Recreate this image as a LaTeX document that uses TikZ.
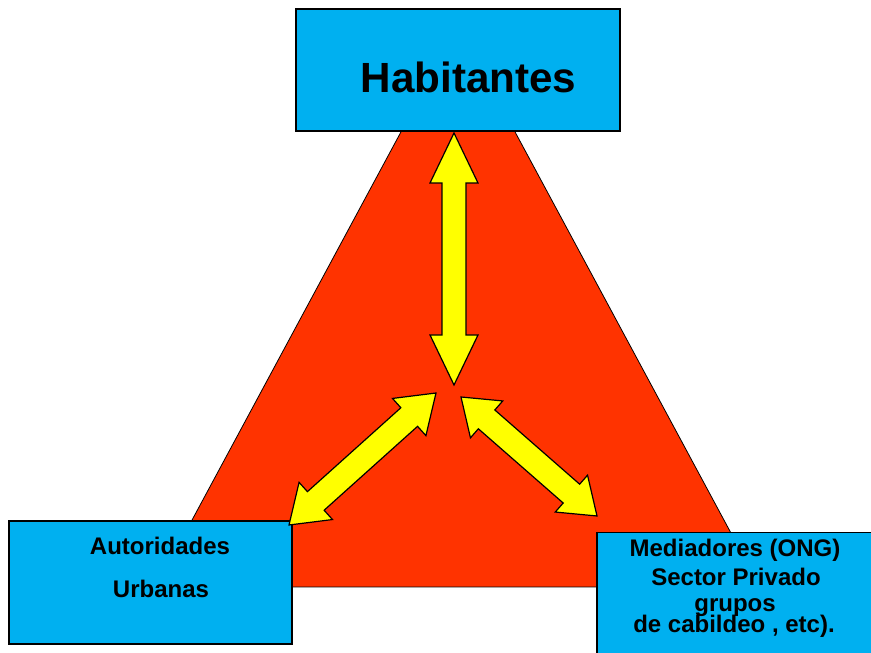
\documentclass[tikz,border=0pt]{standalone}
\usepackage{fontspec}
\setmainfont{Liberation Sans}
\usetikzlibrary{calc}
\definecolor{tri}{HTML}{FF3300}
\definecolor{boxblue}{HTML}{00B0F0}
\definecolor{arrowyellow}{HTML}{FFFF00}
\tikzset{
  boxstyle/.style={draw=black, line width=1.5pt, fill=boxblue, inner sep=0pt},
  lbl/.style={font=\bfseries\fontsize{24}{28}\selectfont, anchor=base, inner sep=0pt},
  biglbl/.style={font=\bfseries\fontsize{42.2}{48}\selectfont, anchor=base, inner sep=0pt},
  yarrow/.style={draw=black, line width=1.2pt, fill=arrowyellow, line join=miter},
  trianglestyle/.style={draw=black, line width=0.8pt, fill=tri}
}
\newcommand{\blockarrow}[5]{%
  \draw[yarrow] let \p1=(#1), \p2=(#2),
    \n1={atan2(\y2-\y1,\x2-\x1)}, \n2={veclen(\x2-\x1,\y2-\y1)} in
    [shift={(\p1)}, rotate=\n1]
    (0,0) -- (#3,#4) -- (#3,#5) -- (\n2-#3,#5) -- (\n2-#3,#4) -- (\n2,0)
    -- (\n2-#3,-#4) -- (\n2-#3,-#5) -- (#3,-#5) -- (#3,-#4) -- cycle;
}
\begin{document}
\begin{tikzpicture}[x=1pt,y=1pt]
\useasboundingbox (0,0) rectangle (871,653);
\clip (0,0) rectangle (871,653);
\fill[white] (0,0) rectangle (871,653);
% triangle
\coordinate (apex) at (458,627);
\coordinate (bl) at (156,66);
\coordinate (br) at (760,66);
\draw[trianglestyle] (apex) -- (bl) -- (br) -- cycle;
% boxes
\node[boxstyle, minimum width=324pt, minimum height=122pt] (hab) at (458,583) {};
\node[biglbl] (habt) at (468.5,560) {Habitantes};
\node[boxstyle, minimum width=283pt, minimum height=123pt] (aut) at (150.5,70.5) {};
\node[lbl] (aut1) at (160,98) {Autoridades};
\node[lbl] (aut2) at (161,55) {Urbanas};
\node[boxstyle, minimum width=290pt, minimum height=140pt, anchor=north west] (med) at (596,121) {};
\node[lbl] (med1) at (735,96) {Mediadores (ONG)};
\node[lbl] (med2) at (736,67) {Sector Privado};
\node[lbl] (med3) at (735,41) {grupos};
\node[lbl] (med4) at (734,20) {de cabildeo , etc).};
% arrow tips
\coordinate (v1) at (454,520);
\coordinate (v2) at (454,268);
\coordinate (l1) at (436,260);
\coordinate (l2) at (289,128);
\coordinate (r1) at (461,256);
\coordinate (r2) at (597,137);
\blockarrow{v1}{v2}{50}{24}{12}
\blockarrow{l1}{l2}{36}{25}{12.5}
\blockarrow{r1}{r2}{34}{24.5}{12.5}
\end{tikzpicture}
\end{document}
